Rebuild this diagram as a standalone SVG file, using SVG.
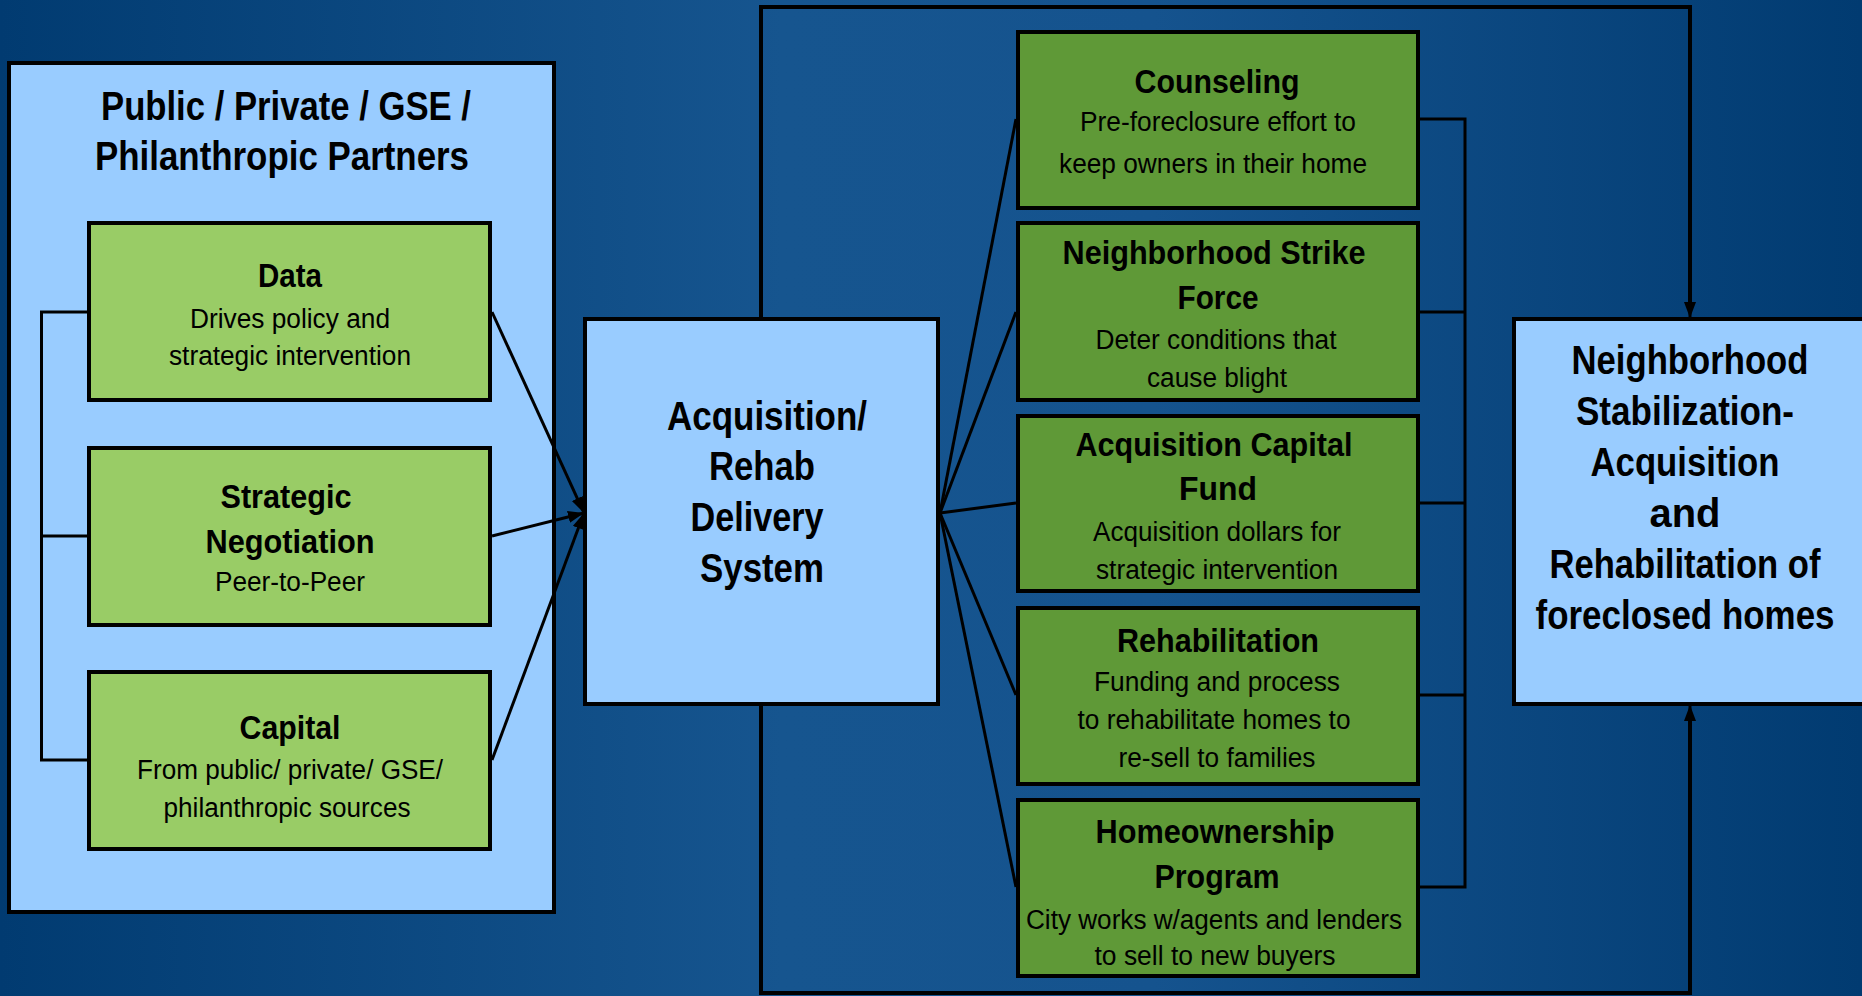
<svg xmlns="http://www.w3.org/2000/svg" width="1862" height="996" viewBox="0 0 1862 996">
<defs>
<linearGradient id="bg" x1="0" y1="0" x2="1" y2="0">
<stop offset="0" stop-color="#013b71"/>
<stop offset="0.42" stop-color="#16558f"/>
<stop offset="0.62" stop-color="#15538e"/>
<stop offset="1" stop-color="#013b71"/>
</linearGradient>
<marker id="ah" markerUnits="userSpaceOnUse" markerWidth="18" markerHeight="14" refX="16" refY="6" orient="auto">
<path d="M0,0 L16,6 L0,12 z" fill="#000"/>
</marker>
<style>
.lb{fill:#99ccff;stroke:#000;stroke-width:4}
.lg{fill:#99cc66;stroke:#000;stroke-width:4}
.dg{fill:#5f9937;stroke:#000;stroke-width:4}
.t{font-family:"Liberation Sans",Arial,sans-serif;fill:#000;text-anchor:middle}
.h{font-weight:bold;font-size:34px}
.b{font-size:27px}
.big{font-weight:bold;font-size:40px}
.c{fill:none;stroke:#000;stroke-width:3}
.f{fill:none;stroke:#000;stroke-width:4}
</style>
</defs>
<rect x="0" y="0" width="1862" height="996" fill="url(#bg)"/>

<g id="partners">
<rect class="lb" x="9" y="63" width="545" height="849"/>
<text class="t big" x="286" y="120" textLength="370" lengthAdjust="spacingAndGlyphs">Public / Private / GSE /</text>
<text class="t big" x="282" y="170" textLength="374" lengthAdjust="spacingAndGlyphs">Philanthropic Partners</text>
</g>

<g id="data">
<rect class="lg" x="89" y="223" width="401" height="177"/>
<text class="t h" x="290" y="287" textLength="64" lengthAdjust="spacingAndGlyphs">Data</text>
<text class="t b" x="290" y="328" textLength="200" lengthAdjust="spacingAndGlyphs">Drives policy and</text>
<text class="t b" x="290" y="365" textLength="242" lengthAdjust="spacingAndGlyphs">strategic intervention</text>
</g>

<g id="negotiation">
<rect class="lg" x="89" y="448" width="401" height="177"/>
<text class="t h" x="286" y="508" textLength="131" lengthAdjust="spacingAndGlyphs">Strategic</text>
<text class="t h" x="290" y="553" textLength="169" lengthAdjust="spacingAndGlyphs">Negotiation</text>
<text class="t b" x="290" y="591" textLength="150" lengthAdjust="spacingAndGlyphs">Peer-to-Peer</text>
</g>

<g id="capital">
<rect class="lg" x="89" y="672" width="401" height="177"/>
<text class="t h" x="290" y="739" textLength="101" lengthAdjust="spacingAndGlyphs">Capital</text>
<text class="t b" x="290" y="779" textLength="306" lengthAdjust="spacingAndGlyphs">From public/ private/ GSE/</text>
<text class="t b" x="287" y="817" textLength="247" lengthAdjust="spacingAndGlyphs">philanthropic sources</text>
</g>

<g id="delivery">
<rect class="lb" x="585" y="319" width="353" height="385"/>
<text class="t big" x="767" y="430" textLength="200" lengthAdjust="spacingAndGlyphs">Acquisition/</text>
<text class="t big" x="762" y="480" textLength="106" lengthAdjust="spacingAndGlyphs">Rehab</text>
<text class="t big" x="757" y="531" textLength="133" lengthAdjust="spacingAndGlyphs">Delivery</text>
<text class="t big" x="762" y="582" textLength="124" lengthAdjust="spacingAndGlyphs">System</text>
</g>

<g id="counseling">
<rect class="dg" x="1018" y="32" width="400" height="176"/>
<text class="t h" x="1217" y="93" textLength="165" lengthAdjust="spacingAndGlyphs">Counseling</text>
<text class="t b" x="1218" y="131" textLength="276" lengthAdjust="spacingAndGlyphs">Pre-foreclosure effort to</text>
<text class="t b" x="1213" y="173" textLength="308" lengthAdjust="spacingAndGlyphs">keep owners in their home</text>
</g>

<g id="strikeforce">
<rect class="dg" x="1018" y="223" width="400" height="177"/>
<text class="t h" x="1214" y="264" textLength="303" lengthAdjust="spacingAndGlyphs">Neighborhood Strike</text>
<text class="t h" x="1218" y="309" textLength="81" lengthAdjust="spacingAndGlyphs">Force</text>
<text class="t b" x="1216" y="349" textLength="241" lengthAdjust="spacingAndGlyphs">Deter conditions that</text>
<text class="t b" x="1217" y="387" textLength="140" lengthAdjust="spacingAndGlyphs">cause blight</text>
</g>

<g id="capitalfund">
<rect class="dg" x="1018" y="416" width="400" height="175"/>
<text class="t h" x="1214" y="456" textLength="277" lengthAdjust="spacingAndGlyphs">Acquisition Capital</text>
<text class="t h" x="1218" y="500" textLength="78" lengthAdjust="spacingAndGlyphs">Fund</text>
<text class="t b" x="1217" y="541" textLength="248" lengthAdjust="spacingAndGlyphs">Acquisition dollars for</text>
<text class="t b" x="1217" y="579" textLength="242" lengthAdjust="spacingAndGlyphs">strategic intervention</text>
</g>

<g id="rehabilitation">
<rect class="dg" x="1018" y="608" width="400" height="176"/>
<text class="t h" x="1218" y="652" textLength="202" lengthAdjust="spacingAndGlyphs">Rehabilitation</text>
<text class="t b" x="1217" y="691" textLength="246" lengthAdjust="spacingAndGlyphs">Funding and process</text>
<text class="t b" x="1214" y="729" textLength="273" lengthAdjust="spacingAndGlyphs">to rehabilitate homes to</text>
<text class="t b" x="1217" y="767" textLength="197" lengthAdjust="spacingAndGlyphs">re-sell to families</text>
</g>

<g id="homeownership">
<rect class="dg" x="1018" y="800" width="400" height="176"/>
<text class="t h" x="1215" y="843" textLength="239" lengthAdjust="spacingAndGlyphs">Homeownership</text>
<text class="t h" x="1217" y="888" textLength="125" lengthAdjust="spacingAndGlyphs">Program</text>
<text class="t b" x="1214" y="929" textLength="376" lengthAdjust="spacingAndGlyphs">City works w/agents and lenders</text>
<text class="t b" x="1215" y="965" textLength="241" lengthAdjust="spacingAndGlyphs">to sell to new buyers</text>
</g>

<g id="stabilization">
<rect class="lb" x="1514" y="319" width="360" height="385"/>
<text class="t big" x="1690" y="374" textLength="237" lengthAdjust="spacingAndGlyphs">Neighborhood</text>
<text class="t big" x="1685" y="425" textLength="218" lengthAdjust="spacingAndGlyphs">Stabilization-</text>
<text class="t big" x="1685" y="476" textLength="189" lengthAdjust="spacingAndGlyphs">Acquisition</text>
<text class="t big" x="1685" y="527" textLength="71" lengthAdjust="spacingAndGlyphs">and</text>
<text class="t big" x="1685" y="578" textLength="271" lengthAdjust="spacingAndGlyphs">Rehabilitation of</text>
<text class="t big" x="1685" y="629" textLength="299" lengthAdjust="spacingAndGlyphs">foreclosed homes</text>
</g>

<g id="connectors">
<path class="f" d="M761,317 V7 H1690 V305"/>
<path class="f" d="M761,706 V993 H1690 V718"/>
<line class="c" x1="1690" y1="300" x2="1690" y2="318" marker-end="url(#ah)"/>
<line class="c" x1="1690" y1="723" x2="1690" y2="705" marker-end="url(#ah)"/>
<path class="c" d="M87,312 H41.5 V760 H87 M41.5,536 H87"/>
<line class="c" x1="492" y1="312" x2="584" y2="513" marker-end="url(#ah)"/>
<line class="c" x1="492" y1="536" x2="584" y2="513" marker-end="url(#ah)"/>
<line class="c" x1="492" y1="760" x2="584" y2="513" marker-end="url(#ah)"/>
<line class="c" x1="940" y1="513" x2="1016" y2="119"/>
<line class="c" x1="940" y1="513" x2="1016" y2="312"/>
<line class="c" x1="940" y1="513" x2="1016" y2="503"/>
<line class="c" x1="940" y1="513" x2="1016" y2="695"/>
<line class="c" x1="940" y1="513" x2="1016" y2="887"/>
<path class="c" d="M1420,119 H1465 V887 H1420 M1420,312 H1465 M1420,503 H1465 M1420,695 H1465"/>
</g>
</svg>
